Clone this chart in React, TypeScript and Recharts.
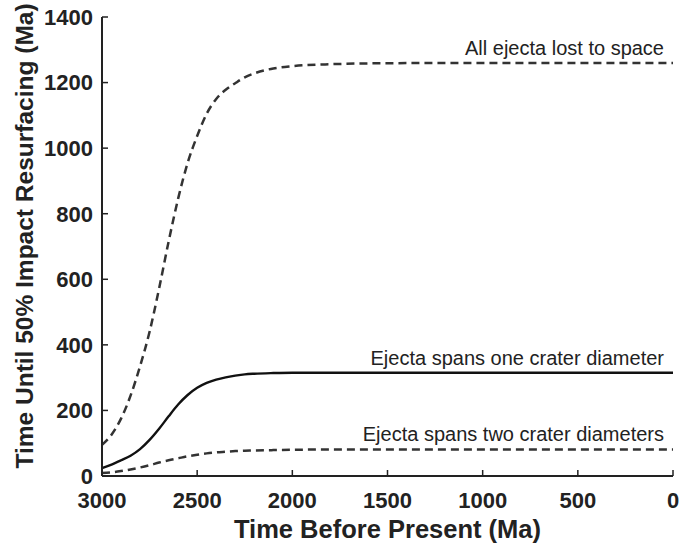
import { Label, Line, LineChart, ReferenceDot, XAxis, YAxis } from "recharts";

// time before present (Ma), shared by all three curves
const timeMa = [
  3000, 2950, 2900, 2850, 2800, 2750, 2700, 2650, 2600, 2550, 2500, 2450, 2400, 2350,
  2300, 2250, 2200, 2100, 2000, 1800, 1500, 1000, 500, 0,
];

// time until 50% impact resurfacing (Ma)
const lostToSpace = [
  95, 126, 175, 245, 335, 440, 572, 715, 846, 955, 1037, 1105, 1150, 1178,
  1198, 1216, 1228, 1243, 1250, 1256, 1259, 1260, 1260, 1260,
];
const oneDiameter = [
  24, 35, 48, 62, 82, 110, 144, 182, 218, 247, 269, 284, 294, 301,
  306, 310, 312, 314, 315, 315, 315, 315, 315, 315,
];
const twoDiameters = [
  9, 11, 15, 20, 26, 33, 41, 48, 54, 60, 65, 69, 72, 74,
  76, 77, 78, 79, 80, 81, 81, 81, 81, 81,
];

const xTicks = [3000, 2500, 2000, 1500, 1000, 500, 0];
const yTicks = [0, 200, 400, 600, 800, 1000, 1200, 1400];

const curveLabels = [
  { text: "All ejecta lost to space", end: lostToSpace[lostToSpace.length - 1] },
  { text: "Ejecta spans one crater diameter", end: oneDiameter[oneDiameter.length - 1] },
  { text: "Ejecta spans two crater diameters", end: twoDiameters[twoDiameters.length - 1] },
];

const toRows = (vals: number[]) => timeMa.map((t, i) => ({ t, v: vals[i] }));

const FONT = '"Liberation Sans", Arial, Helvetica, sans-serif';
const INK = "#222";
const noTick = () => <g />;

function CurveLabel({ viewBox, text }: any) {
  return (
    <text
      x={viewBox.x - 9}
      y={viewBox.y - 8}
      textAnchor="end"
      fontFamily={FONT}
      fontSize={20}
      fill={INK}
    >
      {text}
    </text>
  );
}

function XTitle({ viewBox }: any) {
  return (
    <text
      x={viewBox.x + viewBox.width / 2}
      y={viewBox.y + 62}
      textAnchor="middle"
      fontFamily={FONT}
      fontSize={25.5}
      fontWeight="bold"
      fill={INK}
    >
      Time Before Present (Ma)
    </text>
  );
}

function YTitle({ viewBox }: any) {
  const cx = 33;
  const cy = viewBox.y + viewBox.height / 2 - 10.5;
  return (
    <text
      x={cx}
      y={cy}
      transform={`rotate(-90 ${cx} ${cy})`}
      textAnchor="middle"
      fontFamily={FONT}
      fontSize={24.5}
      fontWeight="bold"
      fill={INK}
    >
      Time Until 50% Impact Resurfacing (Ma)
    </text>
  );
}

export default function App() {
  const tickStyle = { fontSize: 22, fontWeight: "bold", fill: INK, fontFamily: FONT };
  const axisLine = { stroke: INK, strokeWidth: 2 };
  const tickLine = { stroke: INK, strokeWidth: 1.5 };

  return (
    <>
      <style>{"body { margin: 0; }"}</style>
      <LineChart width={692} height={545} margin={{ top: 17, right: 19, left: 0, bottom: 0 }}>
        <XAxis
          dataKey="t"
          type="number"
          domain={[0, 3000]}
          reversed
          ticks={xTicks}
          interval={0}
          height={69}
          tickSize={-6}
          tickMargin={22}
          tick={tickStyle}
          axisLine={axisLine}
          tickLine={tickLine}
        >
          <Label content={<XTitle />} />
        </XAxis>
        <XAxis
          xAxisId="top"
          orientation="top"
          dataKey="t"
          type="number"
          domain={[0, 3000]}
          reversed
          ticks={xTicks}
          interval={0}
          height={0}
          tickSize={-6}
          tick={noTick}
          axisLine={axisLine}
          tickLine={tickLine}
        />
        <YAxis
          type="number"
          domain={[0, 1400]}
          ticks={yTicks}
          interval={0}
          width={102}
          tickSize={-6}
          tickMargin={15}
          tick={tickStyle}
          axisLine={axisLine}
          tickLine={tickLine}
        >
          <Label content={<YTitle />} />
        </YAxis>
        <YAxis
          yAxisId="right"
          orientation="right"
          type="number"
          domain={[0, 1400]}
          ticks={yTicks}
          interval={0}
          width={0}
          tickSize={-6}
          tick={noTick}
          axisLine={axisLine}
          tickLine={tickLine}
        />

        <Line
          data={toRows(lostToSpace)}
          dataKey="v"
          type="monotone"
          stroke="#333"
          strokeWidth={2.5}
          strokeDasharray="8 5"
          dot={false}
          isAnimationActive={false}
        />
        <Line
          data={toRows(oneDiameter)}
          dataKey="v"
          type="monotone"
          stroke="#111"
          strokeWidth={2.4}
          dot={false}
          isAnimationActive={false}
        />
        <Line
          data={toRows(twoDiameters)}
          dataKey="v"
          type="monotone"
          stroke="#333"
          strokeWidth={2.5}
          strokeDasharray="8 5"
          dot={false}
          isAnimationActive={false}
        />

        {curveLabels.map((c) => (
          <ReferenceDot
            key={c.text}
            x={0}
            y={c.end}
            r={0}
            fill="none"
            stroke="none"
            ifOverflow="visible"
            label={<CurveLabel text={c.text} />}
          />
        ))}
      </LineChart>
    </>
  );
}
